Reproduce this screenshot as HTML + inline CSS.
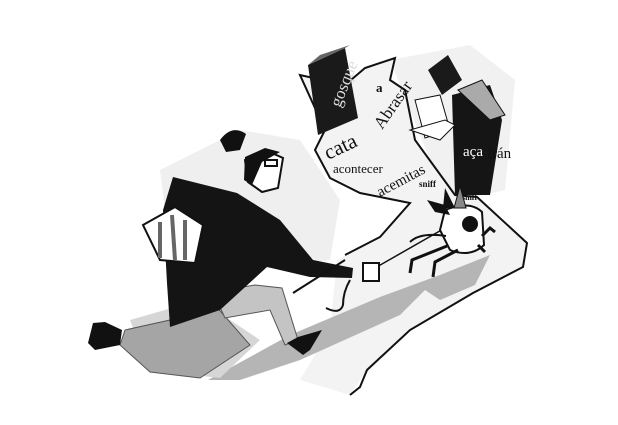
<!DOCTYPE html>
<html><head><style>
html,body{margin:0;padding:0;background:#fff;width:618px;height:425px;overflow:hidden}
svg{display:block}
text{font-family:"Liberation Serif",serif;fill:#111}
</style></head><body>
<svg width="618" height="425" viewBox="0 0 618 425">
<!-- background washes -->
<path d="M160,170 L240,130 L300,140 L340,200 L330,260 L250,270 L170,250 Z" fill="#efefef"/>
<path d="M390,60 L470,45 L515,80 L505,190 L460,200 L430,160 Z" fill="#f1f1f1"/>
<!-- paper path -->
<path d="M300,75 L345,85 L365,68 L395,58 L390,80 L405,90 L415,140 L455,195 L477,197 L527,243 L523,267 L473,293 L410,330 L367,370 L350,395 L300,380 L330,330 L337,260 L380,237 L410,203 L360,193 L330,178 L315,150 L325,130 Z" fill="#f3f3f3"/>
<path d="M350,395 L360,387 L367,370 L410,330 L473,293 L523,267 L527,243 L477,197 L455,195 L415,140 L405,90 L390,80 L395,58 L365,68 L345,85 L300,75 L325,130 L315,150 L330,178 L360,193 L410,203 L380,237 L345,255" fill="none" stroke="#111" stroke-width="2"/>
<!-- shadow band -->
<path d="M208,380 L290,335 L380,297 L440,275 L490,255 L475,285 L440,300 L425,290 L400,315 L300,360 L240,380 Z" fill="#b5b5b5"/>
<path d="M130,320 L200,300 L260,340 L220,378 L150,370 Z" fill="#d6d6d6"/>
<!-- books -->
<path d="M308,65 L345,48 L358,118 L318,135 Z" fill="#1a1a1a"/>
<path d="M308,65 L320,55 L350,45 L345,48 Z" fill="#666"/>
<path d="M452,95 L490,85 L502,120 L490,195 L455,195 Z" fill="#151515"/>
<path d="M458,90 L482,80 L505,115 L490,120 Z" fill="#aaa" stroke="#111"/>
<path d="M428,70 L448,55 L462,80 L442,95 Z" fill="#1a1a1a"/>
<path d="M415,100 L440,95 L450,130 L425,138 Z" fill="#fff" stroke="#111"/>
<path d="M410,130 L440,140 L455,125 L445,120 Z" fill="#fff" stroke="#111"/>
<!-- words -->
<text font-size="17" transform="translate(340,108) rotate(-68)" style="fill:#ddd">gosque</text>
<text x="376" y="92" font-size="13" font-weight="bold">a</text>
<text font-size="17" transform="translate(382,130) rotate(-55)">Abrasar</text>
<text font-size="21" transform="translate(328,160) rotate(-25)">cata</text>
<text x="333" y="173" font-size="13">acontecer</text>
<text font-size="15" transform="translate(380,197) rotate(-28)">acemitas</text>
<text x="463" y="156" font-size="15" style="fill:#fff">aça</text>
<text x="487" y="158" font-size="15">frán</text>
<text x="419" y="187" font-size="9" font-weight="bold">sniff</text>
<text x="462" y="200" font-size="8" font-weight="bold">sniff</text>
<!-- man: legs -->
<path d="M170,320 L215,305 L250,345 L200,378 L150,372 L120,345 L125,330 Z" fill="#a5a5a5" stroke="#555"/>
<path d="M213,292 L255,285 L282,288 L298,340 L285,345 L270,310 L225,318 Z" fill="#c4c4c4" stroke="#555"/>
<path d="M93,323 L105,322 L122,330 L120,345 L95,350 L88,343 Z" fill="#111"/>
<path d="M287,343 L298,337 L322,330 L310,350 L303,355 Z" fill="#111"/>
<!-- body -->
<path d="M173,177 L237,193 L280,220 L313,260 L353,268 L352,278 L310,277 L267,267 L220,310 L170,327 L167,283 L163,210 Z" fill="#141414"/>
<!-- head -->
<path d="M245,160 L265,150 L283,158 L278,188 L262,192 L248,182 Z" fill="#fff" stroke="#111" stroke-width="2"/>
<path d="M245,157 L265,148 L280,152 L262,162 L252,185 L244,180 Z" fill="#111"/>
<rect x="265" y="160" width="12" height="6" fill="none" stroke="#111" stroke-width="2"/>
<path d="M220,140 Q232,124 246,134 L240,150 L226,152 Z" fill="#111"/>
<!-- bag -->
<path d="M143,225 L175,207 L203,225 L195,263 L160,260 Z" fill="#fff" stroke="#111" stroke-width="2"/>
<path d="M160,222 L160,258 M172,215 L175,260 M185,220 L185,260" stroke="#666" stroke-width="4"/>
<!-- leash and hook -->
<path d="M293,293 L345,260" stroke="#111" stroke-width="2"/>
<path d="M375,268 L445,228" stroke="#111" stroke-width="1.5"/>
<rect x="363" y="263" width="16" height="18" fill="#fff" stroke="#111" stroke-width="2"/>
<path d="M350,280 Q343,292 343,305 Q340,315 326,308" fill="none" stroke="#111" stroke-width="2"/>
<!-- dog -->
<path d="M445,210 Q470,200 482,212 L484,245 Q470,258 450,250 L440,230 Z" fill="#fff" stroke="#111" stroke-width="2"/>
<path d="M427,200 L445,205 L450,215 L435,212 Z" fill="#111"/>
<path d="M445,188 L455,208 L443,208 Z" fill="#111"/>
<path d="M460,186 L466,208 L454,208 Z" fill="#888" stroke="#111"/>
<circle cx="470" cy="224" r="8" fill="#111"/>
<path d="M446,236 Q420,232 410,242" fill="none" stroke="#111" stroke-width="2"/>
<path d="M447,246 L412,260 L410,273 M458,250 L435,262 L433,277 M478,245 L485,252 M482,236 L490,228 L495,232" fill="none" stroke="#111" stroke-width="3"/>
</svg>
</body></html>
